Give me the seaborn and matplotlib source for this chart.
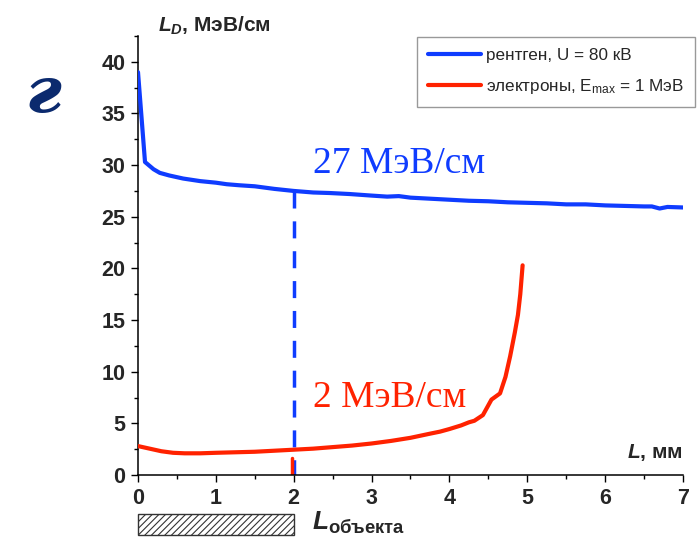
import numpy as np
import pandas as pd
import matplotlib
matplotlib.use("Agg")
import matplotlib.pyplot as plt
import matplotlib.transforms as mtransforms
from matplotlib.patches import Rectangle
from matplotlib.ticker import MultipleLocator
import seaborn as sns

# Linear energy loss L_D (MeV/cm) vs depth L (mm)
xray_L = [0.0, 0.09, 0.2, 0.28, 0.4, 0.58, 0.8, 1.0, 1.14, 1.3, 1.5, 1.75, 2.0,
          2.25, 2.46, 2.72, 3.0, 3.2, 3.35, 3.5, 3.75, 4.0, 4.25, 4.5, 4.75,
          5.0, 5.25, 5.5, 5.75, 6.0, 6.25, 6.5, 6.6, 6.7, 6.8, 7.0]
xray_LD = [39.0, 30.3, 29.6, 29.25, 29.0, 28.7, 28.45, 28.3, 28.15, 28.05, 27.95,
           27.7, 27.5, 27.35, 27.3, 27.2, 27.05, 26.95, 27.0, 26.85, 26.75,
           26.65, 26.55, 26.5, 26.4, 26.35, 26.3, 26.2, 26.2, 26.1, 26.05,
           26.0, 26.0, 25.8, 25.95, 25.9]

electron_L = [0.0, 0.15, 0.3, 0.45, 0.6, 0.8, 1.0, 1.25, 1.5, 1.75, 2.0, 2.25,
              2.5, 2.75, 3.0, 3.25, 3.5, 3.75, 3.88, 4.0, 4.15, 4.25, 4.32,
              4.43, 4.54, 4.65, 4.72, 4.78, 4.84, 4.88, 4.91, 4.94]
electron_LD = [2.8, 2.55, 2.3, 2.15, 2.1, 2.1, 2.15, 2.2, 2.25, 2.35, 2.45, 2.55,
               2.7, 2.85, 3.05, 3.3, 3.6, 4.0, 4.2, 4.45, 4.8, 5.1, 5.25,
               5.8, 7.3, 7.9, 9.5, 11.5, 13.8, 15.5, 17.5, 20.3]

# Object thickness and the x-ray value at its far edge
object_L = 2.0
xray_LD_at_object = 27.5
electron_mark_L = [1.98, 1.98]
electron_mark_LD = [0.0, 1.6]

x_ticks = [0, 1, 2, 3, 4, 5, 6, 7]
y_ticks = [0, 5, 10, 15, 20, 25, 30, 35, 40]

xray_label = "рентген, U = 80 кВ"
electron_label = r"электроны, E$_{\mathregular{max}}$ = 1 МэВ"
xray_note = "27 МэВ/см"
electron_note = "2 МэВ/см"
panel_label = "г"

BLUE = "#0f3cff"
RED = "#ff2200"

sns.set_style("ticks")
plt.rcParams["font.family"] = ["Liberation Sans", "DejaVu Sans"]
plt.rcParams["mathtext.fontset"] = "custom"
plt.rcParams["mathtext.rm"] = "Liberation Sans:bold"
plt.rcParams["mathtext.bf"] = "Liberation Sans:bold"
plt.rcParams["mathtext.it"] = "Liberation Sans:italic:bold"
plt.rcParams["hatch.linewidth"] = 0.8

fig = plt.figure(figsize=(6.99, 5.4), dpi=100)
ax = fig.add_axes([138 / 699, 65 / 540, 545 / 699, 439 / 540])

xray_df = pd.DataFrame({"L": xray_L, "LD": xray_LD})
electron_df = pd.DataFrame({"L": electron_L, "LD": electron_LD})

# Marker lines at the object edge
ax.plot([object_L, object_L], [xray_LD_at_object, 0.0], color=BLUE, lw=2.5,
        dashes=(4.9, 3.7), zorder=2)
ax.plot(electron_mark_L, electron_mark_LD, color=RED, lw=2.5, zorder=2)

sns.lineplot(data=xray_df, x="L", y="LD", color=BLUE, linewidth=3,
             label=xray_label, ax=ax, zorder=3)
sns.lineplot(data=electron_df, x="L", y="LD", color=RED, linewidth=3,
             label=electron_label, ax=ax, zorder=3)

ax.set_xlim(0, 7)
ax.set_ylim(0, 42.5)
ax.set_xlabel("")
ax.set_ylabel("")
ax.set_xticks(x_ticks)
ax.set_yticks(y_ticks)
ax.xaxis.set_minor_locator(MultipleLocator(0.5))
ax.yaxis.set_minor_locator(MultipleLocator(2.5))
ax.tick_params(which="major", direction="out", length=5, width=1,
               labelsize=15.5, pad=4, color="black")
ax.tick_params(which="minor", direction="out", length=3, width=1, color="black")
for lab in ax.get_xticklabels() + ax.get_yticklabels():
    lab.set_fontweight("bold")
sns.despine(ax=ax)
for side in ("left", "bottom"):
    ax.spines[side].set_linewidth(1.1)
    ax.spines[side].set_color("black")

leg = ax.legend(loc="upper right", bbox_to_anchor=(1.022, 0.998),
                borderaxespad=0, fontsize=12.3, frameon=True, fancybox=False,
                edgecolor="#808080", handlelength=3.1, handletextpad=0.3,
                borderpad=0.65, labelspacing=0.8)
leg.get_frame().set_linewidth(1.0)
for line in leg.get_lines():
    line.set_linewidth(3)

# Value notes
ax.text(2.25, 29.2, xray_note, color=BLUE, fontsize=27,
        family="Liberation Serif", va="baseline", ha="left")
ax.text(2.25, 6.6, electron_note, color=RED, fontsize=27,
        family="Liberation Serif", va="baseline", ha="left")

# Axis titles
fig.text(158 / 699, 1 - 32 / 540, r"$L_D$, МэВ/см", fontsize=15,
         fontweight="bold", va="baseline", ha="left")
ax.text(1.0, 1.6 / 42.5, r"$L$, мм", transform=ax.transAxes, fontsize=15,
        fontweight="bold", va="baseline", ha="right")

# Object thickness bar below the axis
trans = mtransforms.blended_transform_factory(ax.transData, ax.transAxes)
ax.add_patch(Rectangle((0, -0.1367), object_L, 0.0479, transform=trans,
                       facecolor="white", edgecolor="#333333", hatch="/////",
                       lw=1, clip_on=False))
ax.text(2.23, -0.125, r"$L_{\mathrm{объекта}}$", transform=trans,
        fontsize=19, va="baseline", ha="left")

# Panel letter
fig.text(43 / 699, 1 - 95 / 540, panel_label, fontsize=46, color="#0b2a6e",
         family="DejaVu Serif", style="italic", fontweight="bold",
         ha="center", va="center")

fig.savefig("out.png", dpi=100)
